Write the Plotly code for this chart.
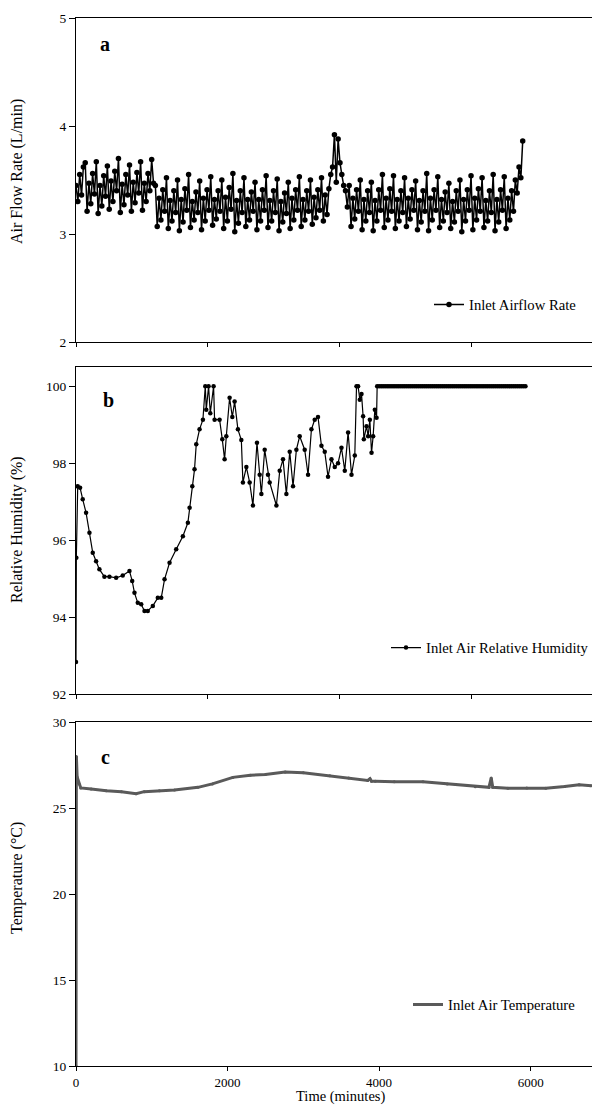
import numpy as np
import plotly.graph_objects as go

# ---------------- DATA ----------------
# Panel a: inlet airflow rate (L/min), logged every 28 min
airflow_step_min = 28
airflow = [
    # first period (0 - ~1150 min)
    3.45, 3.30, 3.55, 3.36, 3.62, 3.66,
    3.21, 3.47, 3.28, 3.56, 3.37, 3.67,
    3.19, 3.45, 3.26, 3.54, 3.35, 3.63,
    3.23, 3.49, 3.30, 3.58, 3.40, 3.70,
    3.20, 3.46, 3.27, 3.55, 3.36, 3.64,
    3.21, 3.48, 3.29, 3.57, 3.38, 3.67,
    3.22, 3.47, 3.30, 3.56, 3.40, 3.69,
    # second period (~1150 - ~3850 min)
    3.47, 3.45,
    3.07, 3.33, 3.13, 3.41, 3.21, 3.52,
    3.05, 3.31, 3.12, 3.40, 3.20, 3.50,
    3.03, 3.32, 3.11, 3.42, 3.22, 3.55,
    3.06, 3.30, 3.13, 3.39, 3.20, 3.49,
    3.04, 3.33, 3.12, 3.41, 3.22, 3.53,
    3.08, 3.32, 3.14, 3.40, 3.21, 3.50,
    3.05, 3.34, 3.12, 3.43, 3.23, 3.56,
    3.02, 3.31, 3.10, 3.40, 3.20, 3.52,
    3.07, 3.32, 3.13, 3.39, 3.21, 3.48,
    3.04, 3.32, 3.12, 3.41, 3.22, 3.54,
    3.06, 3.31, 3.12, 3.40, 3.20, 3.51,
    3.03, 3.30, 3.11, 3.38, 3.19, 3.48,
    3.05, 3.33, 3.13, 3.41, 3.22, 3.53,
    3.07, 3.32, 3.13, 3.40, 3.21, 3.50,
    3.09, 3.34, 3.15, 3.41, 3.22, 3.52,
    3.12, 3.36, 3.18, 3.42,
    # spike (~3860 - ~4090 min)
    3.55, 3.62, 3.92, 3.48, 3.88, 3.66, 3.55, 3.45, 3.40,
    # third period (~4110 - ~6670 min)
    3.25, 3.45,
    3.07, 3.33, 3.14, 3.41, 3.21, 3.50,
    3.04, 3.32, 3.12, 3.40, 3.20, 3.48,
    3.03, 3.31, 3.12, 3.41, 3.22, 3.55,
    3.06, 3.33, 3.13, 3.42, 3.21, 3.54,
    3.05, 3.32, 3.12, 3.40, 3.20, 3.52,
    3.07, 3.33, 3.14, 3.41, 3.22, 3.49,
    3.04, 3.31, 3.11, 3.40, 3.21, 3.56,
    3.03, 3.33, 3.13, 3.41, 3.22, 3.53,
    3.06, 3.32, 3.12, 3.39, 3.20, 3.47,
    3.05, 3.30, 3.11, 3.40, 3.21, 3.50,
    3.02, 3.32, 3.12, 3.41, 3.22, 3.54,
    3.04, 3.33, 3.13, 3.42, 3.21, 3.52,
    3.06, 3.31, 3.12, 3.40, 3.20, 3.55,
    3.03, 3.32, 3.11, 3.41, 3.22, 3.53,
    3.05, 3.33, 3.13, 3.40, 3.21, 3.50,
    # end
    3.38, 3.62, 3.52, 3.86,
]
airflow_t = list(np.arange(len(airflow)) * airflow_step_min)

# Panel b: inlet air relative humidity (%)
rh_t = [0, 5, 26, 62, 102, 153, 204, 254, 305, 355, 431, 507, 609, 709, 811,
        852, 887, 937, 989, 1039, 1089, 1165, 1241, 1293, 1343, 1419, 1520,
        1621, 1697, 1723, 1764, 1798, 1824, 1874, 1925, 1961, 1976, 2011,
        2037, 2087, 2102, 2178, 2219, 2254, 2280, 2330, 2371, 2406, 2456,
        2508, 2532, 2584, 2634, 2684, 2745, 2786, 2812, 2862, 2912, 2938,
        3040, 3090, 3140, 3191, 3242, 3292, 3343, 3393, 3469, 3520, 3571,
        3621, 3671, 3723, 3773, 3823, 3875, 3925, 3975, 4027, 4077, 4127,
        4179, 4229, 4255, 4279, 4305, 4331, 4355, 4366, 4407, 4431, 4457,
        4483, 4507, 4533, 4559, 4568]
rh = [92.83, 95.54, 97.40, 97.36, 97.06, 96.71, 96.19, 95.67, 95.45, 95.24,
      95.05, 95.05, 95.02, 95.08, 95.20, 94.94, 94.63, 94.37, 94.33, 94.16,
      94.16, 94.29, 94.50, 94.50, 94.98, 95.41, 95.76, 96.10, 96.45, 96.84,
      97.40, 97.84, 98.49, 98.88, 99.13, 100.0, 99.39, 100.0, 99.30, 100.0,
      99.13, 99.13, 98.62, 98.10, 98.70, 99.70, 99.20, 99.60, 98.88, 98.60,
      97.50, 97.90, 97.50, 96.90, 98.53, 97.70, 97.20, 98.35, 97.70, 97.50,
      96.90, 97.80, 98.10, 97.20, 98.30, 97.40, 98.35, 98.70, 98.35, 97.70,
      98.88, 99.13, 99.20, 98.45, 98.30, 97.65, 98.10, 97.90, 98.00, 98.40,
      97.80, 98.80, 97.70, 98.20, 100.0, 100.0, 99.65, 99.80, 99.22, 98.62,
      98.96, 98.70, 99.13, 98.27, 98.70, 99.39, 99.18, 100.0]
# saturated section: logged every 30 min at 100 %
rh_sat_t = list(range(4598, 6830, 30))
rh_sat = [100.0] * len(rh_sat_t)

# Panel c: inlet air temperature (deg C)
temp_t = [0, 5, 15, 40, 63, 200, 400, 600, 793, 900, 1100, 1300, 1610, 1800,
          2070, 2300, 2500, 2760, 3000, 3350, 3600, 3850, 3880, 3900, 3950,
          4200, 4580, 4900, 5270, 5450, 5480, 5500, 5700, 5950, 6200, 6450,
          6640, 6800]
temp = [10.0, 28.0, 26.8, 26.4, 26.17, 26.1, 26.0, 25.95, 25.83, 25.95,
        26.0, 26.05, 26.2, 26.4, 26.78, 26.9, 26.95, 27.09, 27.05, 26.88,
        26.75, 26.6, 26.7, 26.55, 26.55, 26.52, 26.52, 26.4, 26.24, 26.2,
        26.75, 26.2, 26.15, 26.17, 26.15, 26.25, 26.35, 26.3]

x_ticks = [0, 2000, 4000, 6000]
y1_ticks = [2, 3, 4, 5]
y2_ticks = [92, 94, 96, 98, 100]
y3_ticks = [10, 15, 20, 25, 30]

# ---------------- FIGURE ----------------
FONT = "Liberation Serif"
OFF = 8  # page body margin offset

fig = go.Figure()

fig.add_trace(go.Scatter(
    x=airflow_t, y=airflow, mode="lines+markers", name="Inlet Airflow Rate",
    line=dict(color="black", width=1.5), marker=dict(size=5.5, color="black"),
    xaxis="x", yaxis="y", legend="legend"))

fig.add_trace(go.Scatter(
    x=rh_t + rh_sat_t, y=rh + rh_sat, mode="lines+markers",
    name="Inlet Air Relative Humidity",
    line=dict(color="black", width=1.2), marker=dict(size=4.5, color="black"),
    xaxis="x2", yaxis="y2", legend="legend2"))

fig.add_trace(go.Scatter(
    x=temp_t, y=temp, mode="lines+markers", name="Inlet Air Temperature",
    line=dict(color="#5a5a5a", width=3), marker=dict(size=3, color="#5a5a5a"),
    xaxis="x3", yaxis="y3", legend="legend3"))

W, H = 584, 1098
# plot-area edges in page pixels
P_LEFT, P_RIGHT = 76, 592
L = P_LEFT - OFF
R = W - (P_RIGHT - OFF)
T = 18 - OFF
B = H - (1066 - OFF)
pw = W - L - R
ph = H - T - B


def px_x(px):
    return (px - OFF - L) / pw


def px_y(py):
    return 1 - (py - OFF - T) / ph


def xax(rng, anchor, labels):
    return dict(domain=[0, 1], anchor=anchor, range=rng, tickvals=x_ticks,
                showticklabels=labels, ticks="outside", ticklen=4,
                tickcolor="black", showline=True, linecolor="black",
                linewidth=1, mirror=True, showgrid=False, zeroline=False,
                tickfont=dict(family=FONT, size=13, color="black"))


def yax(dom, rng, tv, anchor):
    return dict(domain=dom, anchor=anchor, range=rng, tickvals=tv,
                ticks="outside", ticklen=6, tickcolor="black",
                showline=True, linecolor="black", linewidth=1,
                showgrid=False, zeroline=False,
                tickfont=dict(family=FONT, size=13.5, color="black"))


leg_common = dict(xanchor="left", yanchor="middle", bgcolor="rgba(0,0,0,0)",
                  borderwidth=0, font=dict(family=FONT, size=14.7, color="black"),
                  itemwidth=30)

fig.update_layout(
    width=W, height=H,
    margin=dict(l=L, r=R, t=T, b=B, autoexpand=False),
    paper_bgcolor="white", plot_bgcolor="white",
    font=dict(family=FONT, size=13, color="black"),
    xaxis=xax([0, 7827], "y", False),
    yaxis=yax([px_y(342), px_y(18)], [2, 5], y1_ticks, "x"),
    xaxis2=xax([0, 7827], "y2", False),
    yaxis2=yax([px_y(694), px_y(367)], [92, 100.5], y2_ticks, "x2"),
    xaxis3=xax([0, 6810], "y3", True),
    yaxis3=yax([px_y(1066), px_y(722)], [10, 30], y3_ticks, "x3"),
    legend=dict(x=px_x(429), y=px_y(305), **leg_common),
    legend2=dict(x=px_x(386), y=px_y(648), **leg_common),
    legend3=dict(x=px_x(408), y=px_y(1005), **leg_common),
    showlegend=True,
)

annots = [
    dict(text="<b>a</b>", x=px_x(105), y=px_y(44)),
    dict(text="<b>b</b>", x=px_x(108), y=px_y(400)),
    dict(text="<b>c</b>", x=px_x(105), y=px_y(757)),
]
for a in annots:
    fig.add_annotation(xref="paper", yref="paper", showarrow=False,
                       xanchor="center", yanchor="middle",
                       font=dict(family=FONT, size=20, color="black"), **a)

titles = [
    ("Air Flow Rate (L/min)", 172),
    ("Relative Humidity (%)", 530),
    ("Temperature (\u00b0C)", 878),
]
for txt, cy in titles:
    fig.add_annotation(xref="paper", yref="paper", showarrow=False,
                       x=px_x(17), y=px_y(cy), textangle=-90,
                       xanchor="center", yanchor="middle", text=txt,
                       font=dict(family=FONT, size=16, color="black"))

fig.add_annotation(xref="paper", yref="paper", showarrow=False,
                   x=px_x(340), y=px_y(1096), xanchor="center",
                   yanchor="middle", text="Time (minutes)",
                   font=dict(family=FONT, size=14.5, color="black"))

fig.write_html("out.html")
